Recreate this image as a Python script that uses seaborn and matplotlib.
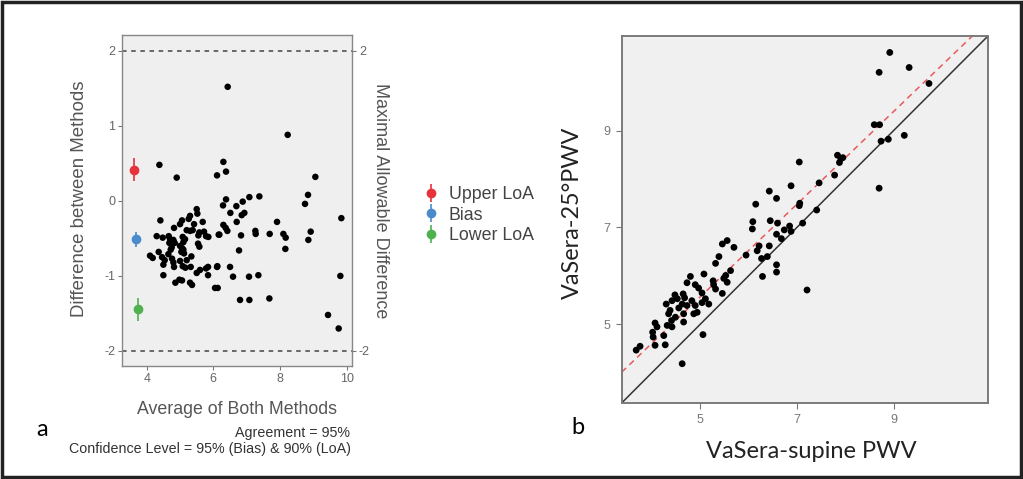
import numpy as np
import pandas as pd
import seaborn as sns
import matplotlib.pyplot as plt
from matplotlib.patches import Rectangle

# panel a: Bland-Altman
avg_both = [6.43, 8.23, 4.38, 4.90, 6.30, 6.38, 6.11, 9.06, 8.84, 8.75, 6.38, 6.29, 6.69, 6.88, 7.08, 7.38,
            6.51, 6.85, 6.93, 6.70, 9.84, 7.91, 6.30, 6.37, 6.42, 6.18, 6.83, 7.26, 7.27, 7.69, 8.10, 8.17,
            8.16, 8.92, 8.85, 6.77, 6.50, 6.11, 6.59, 7.07, 7.35, 9.81, 6.80, 7.08, 7.68, 9.44, 9.76, 6.05,
            6.13, 4.41, 5.50, 5.52, 5.30, 5.26, 5.06, 5.00, 4.82, 5.42, 5.68, 5.20, 5.30, 5.38, 5.58, 5.55,
            5.72, 5.78, 5.85, 4.30, 4.48, 4.66, 4.70, 4.68, 4.80, 4.84, 4.75, 5.08, 5.10, 5.15, 5.00, 5.06,
            5.10, 5.04, 5.12, 5.54, 5.58, 6.16, 4.10, 4.18, 4.36, 4.46, 4.54, 4.65, 4.72, 4.76, 4.80, 4.50,
            5.00, 5.20, 5.34, 5.08, 5.16, 4.82, 5.32, 5.60, 5.78, 5.84, 6.12, 4.50, 4.98, 5.06, 4.86, 5.30,
            5.36, 5.50, 5.84]
diff_methods = [1.52, 0.88, 0.48, 0.31, 0.52, 0.39, 0.34, 0.32, 0.08, -0.04, 0.02, -0.06, -0.07, -0.01, 0.05, 0.06,
                -0.16, -0.19, -0.16, -0.28, -0.23, -0.28, -0.32, -0.36, -0.40, -0.45, -0.46, -0.40, -0.44, -0.44, -0.44, -0.49,
                -0.64, -0.41, -0.52, -0.66, -0.88, -0.88, -1.01, -1.01, -0.99, -1.00, -1.32, -1.32, -1.30, -1.52, -1.70, -1.16,
                -1.16, -0.26, -0.11, -0.17, -0.20, -0.24, -0.26, -0.31, -0.36, -0.31, -0.28, -0.39, -0.40, -0.39, -0.42, -0.46,
                -0.41, -0.47, -0.48, -0.47, -0.49, -0.47, -0.51, -0.56, -0.52, -0.56, -0.62, -0.48, -0.55, -0.51, -0.60, -0.63,
                -0.65, -0.68, -0.70, -0.57, -0.61, -0.45, -0.73, -0.76, -0.68, -0.75, -0.79, -0.71, -0.65, -0.77, -0.82, -0.85,
                -0.80, -0.79, -0.74, -0.87, -0.89, -0.88, -0.88, -0.92, -0.90, -0.88, -0.87, -0.99, -1.05, -1.06, -1.09, -1.09,
                -1.12, -0.96, -0.99]

loa_labels = ["Upper LoA", "Bias", "Lower LoA"]
loa_x = [3.62, 3.67, 3.75]
loa_y = [0.41, -0.51, -1.44]
loa_lo = [0.27, -0.61, -1.60]
loa_hi = [0.57, -0.41, -1.29]
loa_colors = ["#e5323b", "#4a8bcb", "#4fb24f"]
max_allowed = 2

# panel b: supine vs 25 degree
supine_pwv = [8.92, 8.70, 9.32, 9.73, 8.60, 8.71, 8.74, 8.89, 9.22, 8.70, 7.84, 7.91, 7.88, 7.95, 7.78, 7.46,
              7.05, 6.88, 7.41, 7.06, 7.05, 7.12, 7.21, 6.43, 6.58, 6.15, 6.09, 6.08, 6.45, 6.60, 6.74, 6.85,
              6.88, 6.58, 6.68, 6.22, 6.18, 6.43, 6.39, 6.27, 6.58, 6.58, 6.29, 5.95, 5.70, 5.56, 5.46, 5.39,
              5.32, 5.63, 5.53, 5.49, 5.56, 5.27, 5.28, 5.32, 5.46, 5.08, 4.90, 4.80, 4.73, 4.97, 5.04, 5.18,
              5.11, 5.04, 4.83, 4.90, 4.65, 4.68, 4.48, 4.53, 4.42, 4.63, 4.73, 4.87, 4.94, 4.66, 4.56, 4.30,
              4.38, 4.35, 4.49, 4.41, 4.32, 4.42, 4.66, 4.07, 4.11, 4.02, 4.03, 4.25, 4.28, 4.07, 3.76, 3.68,
              5.06, 4.63]
tilt_pwv = [10.61, 10.20, 10.30, 9.97, 9.12, 9.12, 8.78, 8.82, 8.90, 7.81, 8.49, 8.42, 8.34, 8.44, 8.08, 7.92,
            8.35, 7.86, 7.36, 7.50, 7.45, 7.09, 5.71, 7.75, 7.60, 7.48, 7.12, 6.97, 7.14, 7.09, 6.95, 7.03,
            6.92, 6.86, 6.77, 6.62, 6.52, 6.62, 6.40, 6.36, 6.23, 6.08, 5.99, 6.43, 6.59, 6.73, 6.66, 6.40,
            6.26, 6.11, 6.01, 5.95, 5.87, 5.90, 5.82, 5.73, 5.64, 6.04, 5.82, 5.99, 5.86, 5.75, 5.65, 5.42,
            5.53, 5.45, 5.49, 5.39, 5.63, 5.55, 5.61, 5.53, 5.49, 5.42, 5.39, 5.22, 5.25, 5.22, 5.34, 5.42,
            5.29, 5.22, 5.15, 5.08, 4.98, 4.95, 5.05, 5.03, 4.95, 4.84, 4.74, 4.77, 4.58, 4.57, 4.55, 4.47,
            4.79, 4.19]
fit_slope = 0.957
fit_intercept = 0.78

sns.set_theme(style="white")
plt.rcParams['font.family'] = ['Liberation Sans', 'DejaVu Sans']
plt.rcParams['axes.unicode_minus'] = False

fig = plt.figure(figsize=(10.23, 4.79), dpi=100)
fig.patch.set_facecolor("white")

# ---- panel a
ax1 = fig.add_axes([0.1193, 0.2359, 0.2248, 0.691])
ax1.set_facecolor("#efefef")
df_a = pd.DataFrame({"avg": avg_both, "diff": diff_methods})
sns.scatterplot(data=df_a, x="avg", y="diff", ax=ax1, color="black", s=22, edgecolor="none", zorder=3)
for v in (max_allowed, -max_allowed):
    ax1.axhline(v, color="#444444", lw=1.1, ls=(0, (3, 3)), zorder=2)
handles = []
for lab, xx, yy, lo, hi, c in zip(loa_labels, loa_x, loa_y, loa_lo, loa_hi, loa_colors):
    h = ax1.errorbar([xx], [yy], yerr=[[yy - lo], [hi - yy]], fmt="o", color=c, ms=6,
                     elinewidth=1.2, capsize=0, label=lab, zorder=4)
    handles.append(h)
ax1.set_xlim(3.26, 10.16)
ax1.set_ylim(-2.2, 2.21)
ax1.set_xticks([4, 6, 8, 10])
ax1.set_yticks([-2, -1, 0, 1, 2])
ax1.set_xlabel("")
ax1.set_ylabel("")
ax1.tick_params(axis="both", which="both", length=3, width=0.8, color="#777777",
                labelcolor="#666666", labelsize=9, direction="out", pad=2)
ax1.tick_params(left=True, bottom=True)
for sp in ax1.spines.values():
    sp.set_color("#888888")
    sp.set_linewidth(1.0)
ax1b = ax1.twinx()
ax1b.set_ylim(ax1.get_ylim())
ax1b.set_yticks([-2, 2])
ax1b.tick_params(axis="y", length=3, width=0.8, color="#777777", labelcolor="#666666",
                 labelsize=9, direction="out", pad=2)
ax1b.grid(False)
for sp in ax1b.spines.values():
    sp.set_visible(False)

fig.text(80 / 1023, 1 - 199 / 479, "Difference between Methods", rotation=90, ha="center", va="center",
         fontsize=13.4, color="#555555")
fig.text(380 / 1023, 1 - 201 / 479, "Maximal Allowable Difference", rotation=-90, ha="center", va="center",
         fontsize=13, color="#555555")
fig.text(237 / 1023, 1 - 410 / 479, "Average of Both Methods", ha="center", va="center",
         fontsize=12.8, color="#555555")
fig.text(350 / 1023, 1 - 433 / 479, "Agreement = 95%", ha="right", va="center", fontsize=10.3, color="#333333")
fig.text(351 / 1023, 1 - 449 / 479, "Confidence Level = 95% (Bias) & 90% (LoA)", ha="right", va="center",
         fontsize=10.3, color="#333333")
fig.legend(handles=handles, labels=loa_labels, loc="center left", bbox_to_anchor=(406 / 1023, 1 - 215 / 479),
           frameon=False, fontsize=12.8, handlelength=1.0, handletextpad=0.5, labelspacing=0.2,
           labelcolor="#444444")

# ---- panel b
ax2 = fig.add_axes([0.6077, 0.1587, 0.3581, 0.7662])
ax2.set_facecolor("#f0f0f0")
df_b = pd.DataFrame({"supine": supine_pwv, "tilt": tilt_pwv})
sns.scatterplot(data=df_b, x="supine", y="tilt", ax=ax2, color="black", s=24, edgecolor="none", zorder=3)
ax2.axline((0, 0), slope=1, color="#333333", lw=1.1, zorder=2)
ax2.axline((0, fit_intercept), slope=fit_slope, color="#e85a5a", lw=1.1, ls=(0, (4, 3)), zorder=2)
ax2.set_xlim(3.38, 10.95)
ax2.set_ylim(3.38, 10.95)
ax2.set_xticks([5, 7, 9])
ax2.set_yticks([5, 7, 9])
ax2.set_xlabel("")
ax2.set_ylabel("")
ax2.tick_params(axis="both", length=4, width=0.8, color="#777777", labelcolor="#777777",
                labelsize=9, direction="out", pad=4)
ax2.tick_params(left=True, bottom=True)
for sp in ax2.spines.values():
    sp.set_color("#7a7a7a")
    sp.set_linewidth(1.4)

fig.text(572 / 1023, 1 - 213 / 479, "VaSera-25°PWV", rotation=90, ha="center", va="center",
         fontsize=16.8, color="#222222", family=["Lato", "DejaVu Sans"])
fig.text(811 / 1023, 1 - 451 / 479, "VaSera-supine PWV", ha="center", va="center",
         fontsize=17, color="#222222", family=["Lato", "DejaVu Sans"])

fig.text(42 / 1023, 1 - 429 / 479, "a", ha="center", va="center", fontsize=17, color="black",
         family=["Lato", "DejaVu Sans"])
fig.text(578 / 1023, 1 - 428 / 479, "b", ha="center", va="center", fontsize=17, color="black",
         family=["Lato", "DejaVu Sans"])

# outer frame
fig.patches.append(Rectangle((0.002, 0.004), 0.996, 0.992, transform=fig.transFigure, fill=False,
                             edgecolor="#222222", linewidth=2.5, zorder=10))

fig.savefig("out.png", dpi=100, facecolor="white")
